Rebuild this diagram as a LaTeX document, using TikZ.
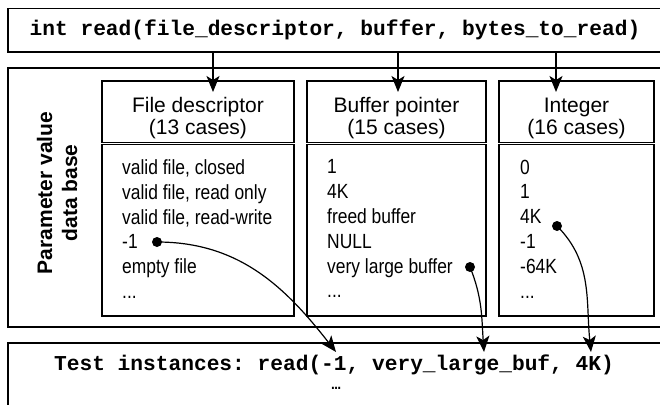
\documentclass[tikz,border=0pt]{standalone}
\usepackage{fontspec}
\setmainfont{Liberation Sans}
\setmonofont{Liberation Mono}
\newfontfamily\narrowfont[FakeStretch=0.85]{Liberation Sans}
\usetikzlibrary{arrows.meta}

\begin{document}
\begin{tikzpicture}[x=1pt, y=-1pt,
    frame/.style={draw, line width=1.6pt, inner sep=0pt, minimum width=654pt},
    valbox/.style={draw, line width=1.4pt, inner sep=0pt, minimum height=235pt},
    code/.style={inner sep=0pt, font=\ttfamily\bfseries\fontsize{21.2}{15}\selectfont},
    head/.style={anchor=base, inner sep=0pt, font=\fontsize{21}{25}\selectfont},
    cases/.style={align=left, anchor=north west, inner sep=0pt,
      font=\narrowfont\fontsize{20.5}{24.8}\selectfont},
    pick/.style={circle, fill, inner sep=0pt, minimum size=10pt},
    feed/.style={-{Stealth[length=16pt,width=13pt,inset=4pt]}, line width=1.2pt},
    sep/.style={double, double distance=1.8pt, line width=0.9pt}]
  \useasboundingbox (0,0) rectangle (660,404);

  % signature, value data base and generated calls
  \node[frame, minimum height=43.5pt, code] (sig) at (335,30.25)
    {int read(file\_descriptor, buffer, bytes\_to\_read)};
  \node[frame, minimum height=259pt] (db) at (335,197.5) {};
  \node[frame, minimum height=68pt] (tests) at (335,377) {};
  \node[code, anchor=base] (call) at (334,370)
    {Test instances: read(-1, very\_large\_buf, 4K)};
  \node[code, anchor=base, font=\ttfamily\bfseries\fontsize{15}{15}\selectfont]
    (more) at (336,389.5) {…};

  \node[rotate=90, align=center, font=\bfseries\fontsize{21}{25}\selectfont]
    (dblabel) at (57,193) {Parameter value\\data base};

  % one box per parameter type
  \node[valbox, minimum width=192pt] (fdbox) at (198,198.5) {};
  \node[valbox, minimum width=179pt] (bufbox) at (396.5,198.5) {};
  \node[valbox, minimum width=155pt] (numbox) at (576.5,198.5) {};

  \coordinate (headline) at (0,143.5);
  \draw[sep] (fdbox.west |- headline) -- (fdbox.east |- headline);
  \draw[sep] (bufbox.west |- headline) -- (bufbox.east |- headline);
  \draw[sep] (numbox.west |- headline) -- (numbox.east |- headline);

  \node[head] (fdname) at (198,112) {File descriptor};
  \node[head] (fdcount) at (198,134) {(13 cases)};
  \node[head] (bufname) at (396.5,112) {Buffer pointer};
  \node[head] (bufcount) at (396.5,134) {(15 cases)};
  \node[head] (numname) at (576.5,112) {Integer};
  \node[head] (numcount) at (576.5,134) {(16 cases)};

  \node[cases] (fdlist) at (122,159.5)
    {valid file, closed\\valid file, read only\\valid file, read-write\\-1\\empty file\\...};
  \node[cases] (buflist) at (327,159.5)
    {1\\4K\\freed buffer\\NULL\\very large buffer\\...};
  \node[cases] (numlist) at (520,159.5)
    {0\\1\\4K\\-1\\-64K\\...};

  % picked values
  \node[pick] (fdpick) at (157,242) {};
  \node[pick] (bufpick) at (470,267) {};
  \node[pick] (numpick) at (557,226) {};

  % parameters into the data base
  \coordinate (fdin) at (213,92);
  \coordinate (bufin) at (398,92);
  \coordinate (numin) at (556,92);
  \draw[feed] (sig.south -| fdin) -- (fdin);
  \draw[feed] (sig.south -| bufin) -- (bufin);
  \draw[feed] (sig.south -| numin) -- (numin);

  % picked values into the test call
  \coordinate (fdout) at (336,352);
  \coordinate (bufout) at (484,352);
  \coordinate (numout) at (591,352);
  \begin{scope}[feed]
    \draw (fdpick.center) to[out=0, in=128] (fdout);
    \draw (bufpick.center) to[out=-68, in=94] (bufout);
    \draw (numpick.center) to[out=-45, in=96] (numout);
  \end{scope}
\end{tikzpicture}
\end{document}
